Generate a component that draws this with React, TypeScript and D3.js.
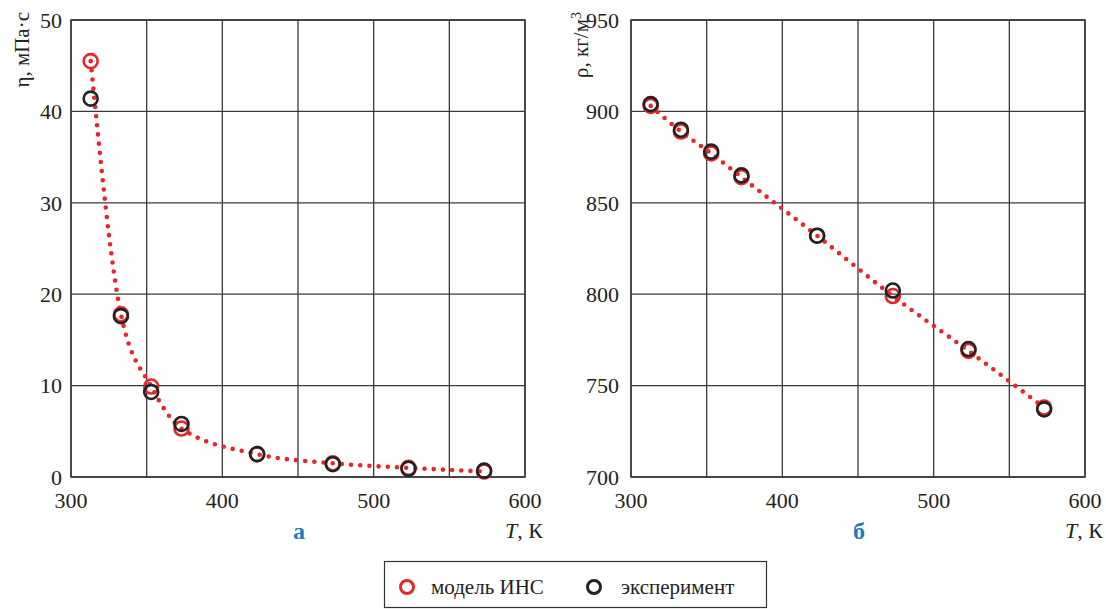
import React from "react";
import * as d3 from "d3";

// Temperatures (K) at which viscosity and density were measured
const temps = [313, 333, 353, 373, 423, 473, 523, 573];
// Dynamic viscosity, mPa·s
const etaModel = [45.5, 17.8, 9.9, 5.3, 2.5, 1.5, 1.0, 0.6];
const etaExp = [41.4, 17.6, 9.3, 5.8, 2.5, 1.4, 0.9, 0.7];
// Density, kg/m³
const rhoModel = [903, 889, 877, 864, 832, 799, 769, 738];
const rhoExp = [904, 890, 878, 865, 832, 802, 770, 737];

const xGrid = [300, 350, 400, 450, 500, 550, 600];
const xTickLabels = [300, 400, 500, 600];
const etaTicks = [0, 10, 20, 30, 40, 50];
const rhoTicks = [700, 750, 800, 850, 900, 950];

const RED = "#e8262a";
const DARK = "#222";
const GRID = "#3a3a3a";
const BLUE = "#1a7cc1";
const FONT = "'Times New Roman', Times, 'Liberation Serif', 'DejaVu Serif', 'Noto Serif', serif";

const txt = (size: number, extra: React.CSSProperties = {}): React.CSSProperties => ({
  fontFamily: FONT,
  fontSize: size,
  ...extra,
});

type PanelProps = {
  left: number;
  right: number;
  top: number;
  bottom: number;
  yDomain: [number, number];
  yTicks: number[];
  model: number[];
  exp: number[];
  letter: string;
  yTitle: React.ReactNode;
  titleX: number;
  tickGap: number;
};

function Panel(p: PanelProps) {
  const x = d3.scaleLinear().domain([300, 600]).range([p.left, p.right]);
  const y = d3.scaleLinear().domain(p.yDomain).range([p.bottom, p.top]);
  const line = d3
    .line<number>()
    .x((_, i) => x(temps[i]))
    .y((v) => y(v))
    .curve(d3.curveMonotoneX);

  return (
    <g>
      {/* grid */}
      {xGrid.map((t) => (
        <line key={"gx" + t} x1={x(t)} x2={x(t)} y1={p.top} y2={p.bottom} stroke={GRID} strokeWidth={1.3} />
      ))}
      {p.yTicks.map((t) => (
        <line key={"gy" + t} x1={p.left} x2={p.right} y1={y(t)} y2={y(t)} stroke={GRID} strokeWidth={1.3} />
      ))}
      <rect x={p.left} y={p.top} width={p.right - p.left} height={p.bottom - p.top} fill="none" stroke={GRID} strokeWidth={1.5} />

      {/* tick labels */}
      {p.yTicks.map((t) => (
        <text key={"ty" + t} x={p.left - p.tickGap} y={y(t)} dy="0.35em" textAnchor="end" style={txt(22)} fill="#222">
          {t}
        </text>
      ))}
      {xTickLabels.map((t) => (
        <text key={"tx" + t} x={x(t)} y={p.bottom + 31} textAnchor="middle" style={txt(22)} fill="#222">
          {t}
        </text>
      ))}

      {/* model curve (dotted) */}
      <path d={line(p.model) || ""} fill="none" stroke={RED} strokeWidth={4.6} strokeLinecap="round" strokeDasharray="0 9.2" />

      {/* markers */}
      {p.model.map((v, i) => (
        <circle key={"m" + i} cx={x(temps[i])} cy={y(v)} r={7} fill="none" stroke={RED} strokeWidth={2.6} />
      ))}
      {p.exp.map((v, i) => (
        <circle key={"e" + i} cx={x(temps[i])} cy={y(v)} r={7} fill="none" stroke={DARK} strokeWidth={2.6} />
      ))}

      {/* titles */}
      <text transform={`translate(${p.titleX},12) rotate(-90)`} textAnchor="end" style={txt(21)} fill="#222">
        {p.yTitle}
      </text>
      <text x={p.right + 18} y={p.bottom + 61} textAnchor="end" style={txt(22)} fill="#222">
        <tspan style={{ fontStyle: "italic" }}>T</tspan>, К
      </text>
      <text x={(p.left + p.right) / 2 + 1} y={p.bottom + 62} textAnchor="middle" style={txt(24, { fontWeight: "bold" })} fill={BLUE}>
        {p.letter}
      </text>
    </g>
  );
}

export default function App() {
  return (
    <svg width={1106} height={609} style={{ position: "absolute", left: 0, top: 0, background: "#fff" }}>
      <rect width={1106} height={609} fill="#fff" />
      <Panel
        left={71}
        right={525}
        top={20}
        bottom={477}
        yDomain={[0, 50]}
        yTicks={etaTicks}
        model={etaModel}
        exp={etaExp}
        letter="а"
        yTitle="η, мПа·с"
        titleX={29}
        tickGap={9}
      />
      <Panel
        left={631}
        right={1085}
        top={20}
        bottom={477}
        yDomain={[700, 950]}
        yTicks={rhoTicks}
        model={rhoModel}
        exp={rhoExp}
        letter="б"
        yTitle={
          <>
            ρ, кг/м<tspan baselineShift="super" style={{ fontSize: 14 }}>3</tspan>
          </>
        }
        titleX={588}
        tickGap={12}
      />

      {/* legend */}
      <rect x={384.5} y={561.5} width={382} height={46} fill="#fff" stroke="#333" strokeWidth={1.2} />
      <circle cx={407} cy={587} r={6.5} fill="none" stroke={RED} strokeWidth={3} />
      <text x={431} y={594} style={txt(21)} fill="#222">модель ИНС</text>
      <circle cx={594} cy={587} r={6.5} fill="none" stroke={DARK} strokeWidth={3} />
      <text x={621} y={594} style={txt(21)} fill="#222">эксперимент</text>
    </svg>
  );
}
